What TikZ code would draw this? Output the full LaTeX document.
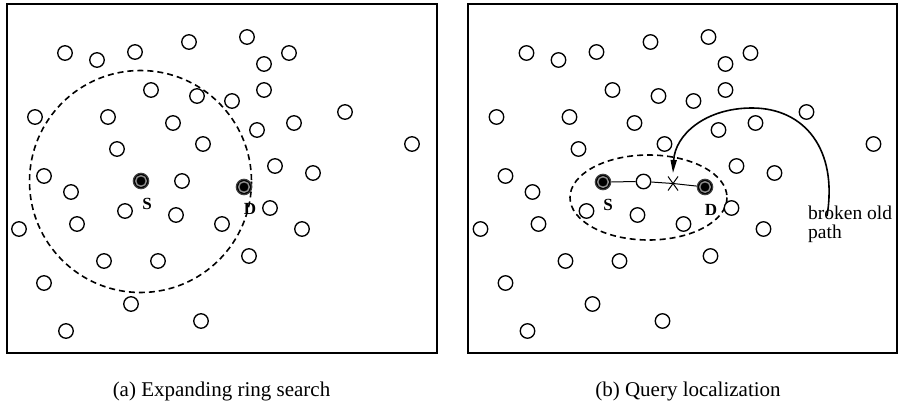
\documentclass[tikz,border=0pt]{standalone}
\usepackage{fontspec}
\setmainfont{Liberation Serif}
\usetikzlibrary{arrows.meta,calc}
\tikzset{
  nd/.style={circle, draw=black, line width=1.35pt, inner sep=0pt, minimum size=14.5pt, fill=white},
  sd/.style={circle, draw=black!75, line width=1.1pt, inner sep=0pt, minimum size=15.5pt, fill=black,
    path picture={\draw[black!45, line width=1.4pt] (path picture bounding box.center) circle (5.3pt);}},
  frame/.style={draw=black, line width=1.3pt},
  ring/.style={draw=black, line width=1.6pt, dash pattern=on 6pt off 4pt},
  lab/.style={font=\fontsize{17}{20}\selectfont\bfseries, inner sep=0pt},
  captext/.style={font=\fontsize{21}{25}\selectfont, inner sep=0pt, anchor=base},
  note/.style={font=\fontsize{19.5}{19}\selectfont, inner sep=0pt, anchor=base west, align=left}
}
\begin{document}
\begin{tikzpicture}[x=1pt,y=-1pt]
\useasboundingbox (0,0) rectangle (899,404);
% frames
\draw[frame] (7,4) rectangle (437,353);
\draw[frame] (468,4) rectangle (897,353);
% dashed ring (a) and ellipse (b)
\draw[ring] (140.5,181.5) circle (111);
\draw[ring] (648.5,197.5) ellipse [x radius=78.5, y radius=42.5];
% ordinary nodes, both panels
\foreach \x/\y [count=\i] in {65/53,97/60,135/52,189/42,247/37,289/53,264/64,151/90,197/96,232/101,264/90,35/117,108/117,173/123,294/123,345/112,257/130,117/149,203/144,412/144,44/176,275/166,313/173,71/192,125/211,176/215,270/208,19/229,77/224,222/224,302/229,104/261,158/261,249/256,44/283,131/304,201/321,66/331}{
  \node[nd] (a\i) at (\x,\y) {};
  \node[nd] (b\i) at (\x+461.5,\y) {};
}
\node[nd] (amid) at (182,181) {};
\node[nd] (bmid) at (643.5,181.5) {};
% source / destination
\node[sd] (S1) at (141,181) {};
\node[sd] (D1) at (244,187) {};
\node[sd] (S2) at (603,182) {};
\node[sd] (D2) at (705,187) {};
\node[lab] (ls1) at (147,204) {S};
\node[lab] (ld1) at (250,209) {D};
\node[lab] (ls2) at (608,205) {S};
\node[lab] (ld2) at (711,210) {D};
% route in (b)
\coordinate (X) at (673,183.5);
\draw[line width=1pt] (S2) -- (bmid);
\draw[line width=1pt] (bmid) -- (X) -- (D2);
\draw[line width=1pt] ($(X)+(-5,-7)$) -- ($(X)+(5,7)$);
\draw[line width=1pt] ($(X)+(-5,7)$) -- ($(X)+(5,-7)$);
% broken old path arrow
\coordinate (arcstart) at (827,216);
\coordinate (tip) at (673,173);
\draw[line width=1.6pt, -{Triangle[length=13pt,width=6pt]}] (arcstart) .. controls (838,150) and (805,108) .. (752,108) .. controls (705,108) and (675,135) .. (tip);
\node[note] (bop) at (808,238) {broken old\\path};
% captions
\node[captext] (capa) at (221.5,396) {(a) Expanding ring search};
\node[captext] (capb) at (688,396) {(b) Query localization};
\end{tikzpicture}
\end{document}
